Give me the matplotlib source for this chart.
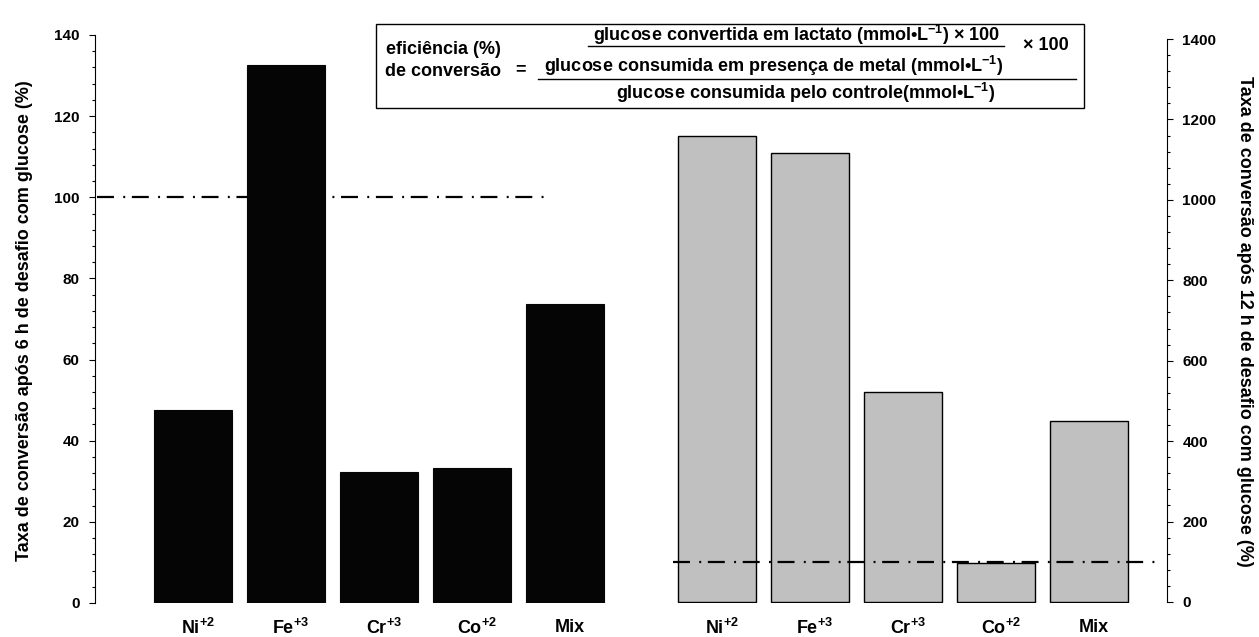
import matplotlib.pyplot as plt
import numpy as np
from matplotlib import transforms
from matplotlib.lines import Line2D
from matplotlib.patches import Rectangle
from matplotlib.ticker import MultipleLocator

plt.rcParams['font.family'] = ['Liberation Sans', 'DejaVu Sans']
plt.rcParams['font.weight'] = 'bold'
plt.rcParams['mathtext.fontset'] = 'custom'
plt.rcParams['mathtext.rm'] = 'Liberation Sans:bold'
plt.rcParams['mathtext.bf'] = 'Liberation Sans:bold'
plt.rcParams['mathtext.it'] = 'Liberation Sans:bold'
plt.rcParams['lines.scale_dashes'] = False

# dados: taxa de conversao (%) por metal
metais = ['Ni', 'Fe', 'Cr', 'Co', 'Mix']
cargas = ['+2', '+3', '+3', '+2', '']
taxa_6h = [47.5, 132.6, 32.3, 33.3, 73.8]
taxa_12h = [1160, 1117, 523, 97, 450]
controle = 100

W, H = 1259, 637
fig = plt.figure(figsize=(W / 100, H / 100), dpi=100)


def px(x, y):
    # pixel -> coordenadas da figura
    return x / W, 1 - y / H


ax = fig.add_axes([95 / W, 1 - 603 / H, (1167 - 95) / W, (603 - 35) / H])
ax2 = ax.twinx()

pos1 = np.arange(len(metais))
pos2 = pos1 + 5.63
larg = 0.84

ax.bar(pos1, taxa_6h, width=larg, color='#050505', edgecolor='#050505', lw=0.8, zorder=3)
ax2.bar(pos2, taxa_12h, width=larg, color='#c0c0c0', edgecolor='black', lw=1.0, zorder=2)

traco = (0, (12.2, 6.7, 1.4, 4.8))
ax.plot([pos1[0] - 1.03, pos1[-1] - 0.18], [controle, controle], color='black',
        lw=1.6, linestyle=traco, zorder=2)
ax2.plot([pos2[0] - 0.47, pos2[-1] + 0.78], [controle, controle], color='black',
         lw=1.6, linestyle=traco, zorder=4)

ax.set_xlim(-1.054, 10.47)
ax.set_ylim(0, 140)
ax2.set_ylim(-2.5, 1410)

for a in (ax, ax2):
    for s in ('top', 'bottom'):
        a.spines[s].set_visible(False)
    a.set_xticks([])
ax.spines['right'].set_visible(False)
ax2.spines['left'].set_visible(False)
ax.spines['left'].set_bounds(0, 140)
ax2.spines['right'].set_bounds(0, 1400)

ax.set_yticks(np.arange(0, 141, 20))
ax.yaxis.set_minor_locator(MultipleLocator(4))
ax2.set_yticks(np.arange(0, 1401, 200))
ax2.yaxis.set_minor_locator(MultipleLocator(40))
for a in (ax, ax2):
    a.tick_params(which='major', direction='out', length=4, width=0.8, labelsize=11, pad=7)
    a.tick_params(which='minor', direction='out', length=2.5, width=0.8)
    for lab in a.get_yticklabels():
        lab.set_fontweight('bold')

# rotulos das categorias
trans = transforms.blended_transform_factory(ax.transData, ax.transAxes)
off = transforms.offset_copy(trans, fig=fig, x=5, y=-25, units='dots')
for p1, p2, m, c in zip(pos1, pos2, metais, cargas):
    txt = m if not c else r'$\mathbf{%s^{%s}}$' % (m, c)
    for p in (p1, p2):
        ax.text(p, 0, txt, transform=off, ha='center', va='center',
                fontsize=13, fontweight='bold')

fig.text(*px(25, 321), 'Taxa de conversão após 6 h de desafio com glucose (%)',
         rotation=90, ha='center', va='center', fontsize=13, fontweight='bold')
fig.text(*px(1245, 321), 'Taxa de conversão após 12 h de desafio com glucose (%)',
         rotation=-90, ha='center', va='center', fontsize=13, fontweight='bold')

# caixa com a formula
x0, y0 = px(376, 108)
x1, y1 = px(1084, 24)
fig.patches.append(Rectangle((x0, y0), x1 - x0, y1 - y0, transform=fig.transFigure,
                             fill=False, edgecolor='black', lw=1.0))
fs = 13
fig.text(*px(797, 35), r'glucose convertida em lactato (mmol•L$^{-1}$) × 100',
         ha='center', va='center', fontsize=fs)
fig.lines.append(Line2D([px(588, 0)[0], px(1004, 0)[0]], [px(0, 46)[1]] * 2,
                        transform=fig.transFigure, color='black', lw=1.0))
fig.text(*px(1046, 46), '× 100', ha='center', va='center', fontsize=fs)
fig.text(*px(774, 66), r'glucose consumida em presença de metal (mmol•L$^{-1}$)',
         ha='center', va='center', fontsize=fs)
fig.lines.append(Line2D([px(538, 0)[0], px(1076, 0)[0]], [px(0, 79)[1]] * 2,
                        transform=fig.transFigure, color='black', lw=1.0))
fig.text(*px(806, 93), r'glucose consumida pelo controle(mmol•L$^{-1}$)',
         ha='center', va='center', fontsize=fs)
fig.text(*px(443, 50), 'eficiência (%)', ha='center', va='center', fontsize=fs)
fig.text(*px(443, 72), 'de conversão', ha='center', va='center', fontsize=fs)
fig.text(*px(521, 70), '=', ha='center', va='center', fontsize=fs)

fig.savefig('out.png', dpi=100)
